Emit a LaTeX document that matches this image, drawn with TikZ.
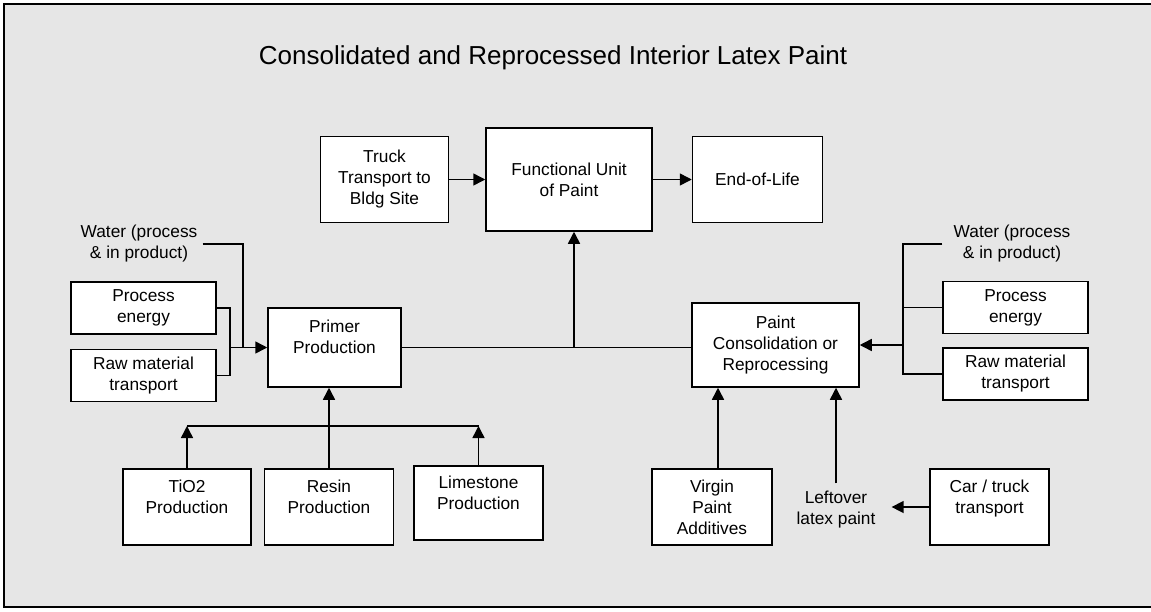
\documentclass[tikz,border=0pt]{standalone}
\usepackage{fontspec}
\setmainfont{Liberation Sans}
\usepackage{tikz}
\usetikzlibrary{positioning, arrows.meta}
\definecolor{panelbg}{RGB}{230,230,230}

\begin{document}
\begin{tikzpicture}[
        x=1pt, y=-1pt,
        font=\fontsize{17.3}{21}\selectfont,
        box/.style={draw, rectangle, fill=white, line width=1.5pt, inner sep=0pt, align=center},
        lbl/.style={inner sep=0pt, align=center},
        arr/.style={-{Triangle[length=12pt, width=12pt]}, line width=1.5pt},
        ln/.style={line width=1.5pt}
    ]
    \useasboundingbox (0,0) rectangle (1151,611);
    \draw[fill=panelbg, line width=2pt] (4,4) rectangle (1165,607);

    \node[font=\fontsize{26}{30}\selectfont] (title) at (553,58) {Consolidated and Reprocessed Interior Latex Paint};

    % use phase
    \node[box, minimum width=166pt, minimum height=103pt] (unit) at (569,179.5) {Functional Unit\\of Paint};
    \node[box, minimum width=128pt, minimum height=86pt] (truck) [left=36pt of unit] {Truck\\Transport to\\Bldg Site};
    \node[box, minimum width=130pt, minimum height=86pt] (eol) [right=39pt of unit] {End-of-Life};

    % production
    \node[box, minimum width=133pt, minimum height=79pt] (primer) at (334.5,347.5) {Primer\\Production\\\mbox{}};
    \node[box, minimum width=167pt, minimum height=84pt] (consol) at (775.5,345) {Paint\\Consolidation or\\Reprocessing};

    % inputs on the left
    \node[lbl] (waterL) at (139,244) {Water (process\\\& in product)};
    \node[box, minimum width=145pt, minimum height=52pt] (energyL) at (143.5,308) {Process\\energy};
    \node[box, minimum width=145pt, minimum height=52pt] (transL) [below=14pt of energyL] {Raw material\\transport};

    % inputs on the right
    \node[lbl] (waterR) at (1012,244) {Water (process\\\& in product)};
    \node[box, minimum width=145pt, minimum height=52pt] (energyR) at (1015.5,307.5) {Process\\energy};
    \node[box, minimum width=145pt, minimum height=52pt] (transR) [below=13pt of energyR] {Raw material\\transport};

    % raw materials
    \node[box, minimum width=128pt, minimum height=76pt] (tio) at (187,507) {TiO2\\Production\\\mbox{}};
    \node[box, minimum width=129pt, minimum height=76pt] (resin) [right=12pt of tio] {Resin\\Production\\\mbox{}};
    \node[box, minimum width=129pt, minimum height=74pt] (lime) at (478.5,503) {Limestone\\Production\\\mbox{}};
    \node[box, minimum width=120pt, minimum height=76pt] (additives) at (712,507) {Virgin\\Paint\\Additives};
    \node[lbl] (leftover) at (836,510) {Leftover\\latex paint};
    \node[box, minimum width=119pt, minimum height=76pt] (car) at (989.5,507) {Car / truck\\transport\\\mbox{}};

    \draw[arr] (truck) -- (unit);
    \draw[arr] (unit) -- (eol);

    % trunk to the functional unit
    \coordinate (hub) at (574,0);
    \draw[ln] (primer.east) -- (consol.west |- primer.east);
    \draw[arr] (hub |- primer.east) -- (hub |- unit.south);

    % left bracket
    \coordinate (joinL) at (230,0);
    \coordinate (waterLx) at (243,0);
    \draw[ln] (energyL.east) -| (joinL |- transL.east) -- (transL.east);
    \draw[ln] ([xshift=5pt]waterL.east) -| (waterLx |- primer.west);
    \draw[arr] (joinL |- primer.west) -- (primer.west);

    % right bracket
    \coordinate (joinR) at (903,0);
    \draw[ln] (energyR.west |- waterR.west) -| (joinR |- transR.west) -- (transR.west);
    \draw[ln] (energyR.west) -- (joinR |- energyR.west);
    \draw[arr] (joinR |- consol.east) -- (consol.east);

    % raw materials to primer
    \coordinate (barL) at (tio.north |- 0,426);
    \coordinate (barR) at (lime.north |- 0,426);
    \draw[ln] (barL) -- (barR);
    \draw[arr] (tio.north) -- (barL);
    \draw[arr] (lime.north) -- (barR);
    \draw[arr] (resin.north) -- (resin.north |- primer.south);

    % inputs to consolidation
    \draw[arr] ([xshift=6pt]additives.north) -- ([xshift=6pt]additives.north |- consol.south);
    \draw[arr] ([yshift=8pt]leftover.north) -- (leftover.north |- consol.south);
    \draw[arr] (car.west) -- ([xshift=16pt]leftover.east |- car.west);

\end{tikzpicture}
\end{document}
